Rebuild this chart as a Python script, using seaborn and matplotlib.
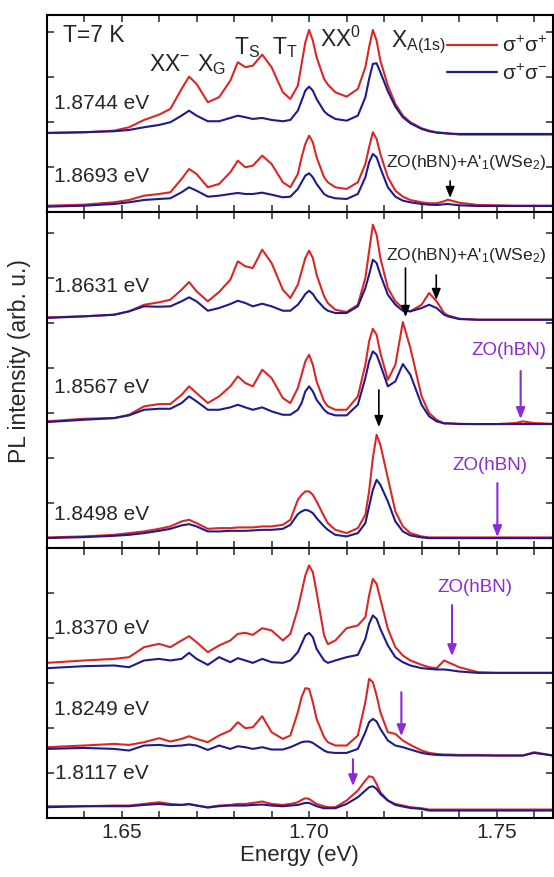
import numpy as np
import pandas as pd
import matplotlib
matplotlib.use("Agg")
import matplotlib.pyplot as plt
import seaborn as sns
from matplotlib.ticker import MultipleLocator, FormatStrFormatter

# ---------------- data (intensities in arb. units, stacked) ----------------
energy = [1.630, 1.640, 1.648, 1.652, 1.656, 1.660, 1.663, 1.666, 1.668, 1.670,
          1.673, 1.676, 1.679, 1.681, 1.683, 1.685, 1.6875, 1.690, 1.693, 1.695,
          1.697, 1.698, 1.699, 1.700, 1.701, 1.702, 1.704, 1.705, 1.707, 1.710,
          1.713, 1.715, 1.716, 1.717, 1.718, 1.719, 1.721, 1.723, 1.725, 1.727,
          1.730, 1.732, 1.734, 1.736, 1.737, 1.740, 1.745, 1.750, 1.755, 1.757,
          1.760, 1.765]

# top panel
sigpp_18744 = [79.0, 79.7, 81.3, 84.7, 92.0, 97.3, 103.0, 123.0, 135.3, 128.0, 109.7, 114.7, 131.3, 149.7, 144.7, 146.3, 157.3, 144.7, 119.7, 113.0, 126.3, 148.0, 169.7, 182.0, 171.3, 154.7, 133.0, 127.3, 119.7, 115.3, 123.0, 144.7, 164.7, 182.0, 171.3, 151.3, 126.3, 108.0, 96.3, 89.7, 83.7, 81.3, 79.7, 79.0, 78.7, 77.3, 77.3, 77.3, 77.3, 77.3, 77.3, 77.3]
sigpm_18744 = [79.0, 79.7, 80.7, 82.0, 84.7, 87.0, 89.7, 96.3, 101.3, 96.3, 90.7, 90.7, 94.0, 96.3, 94.7, 93.0, 94.0, 92.0, 90.7, 92.0, 101.3, 111.3, 121.3, 125.3, 121.3, 113.0, 100.7, 97.3, 93.0, 91.3, 96.3, 114.7, 133.0, 148.0, 148.7, 139.7, 120.7, 105.3, 94.7, 88.7, 83.0, 80.7, 79.3, 78.7, 78.3, 78.0, 78.0, 78.0, 78.0, 78.0, 78.0, 78.0]
sigpp_18693 = [6.3, 7.3, 9.7, 12.0, 16.3, 18.0, 19.7, 33.0, 43.0, 38.0, 24.7, 28.0, 39.7, 51.3, 44.7, 46.3, 56.3, 48.0, 29.7, 24.7, 38.0, 54.7, 68.0, 76.3, 69.7, 54.7, 34.7, 29.7, 24.7, 23.0, 29.7, 48.0, 64.7, 79.7, 73.0, 58.0, 34.7, 21.3, 15.3, 12.0, 9.7, 8.7, 8.7, 10.7, 12.3, 9.3, 7.0, 6.7, 6.3, 6.3, 6.3, 6.3]
sigpm_18693 = [5.3, 6.3, 8.0, 9.7, 12.0, 13.0, 13.7, 19.7, 24.7, 21.3, 15.3, 16.3, 18.0, 19.0, 18.0, 18.0, 19.3, 17.3, 14.7, 15.3, 23.0, 29.7, 36.3, 38.7, 34.7, 28.0, 18.0, 15.7, 13.7, 13.0, 18.0, 34.7, 49.7, 58.0, 54.7, 44.0, 24.7, 15.3, 11.3, 9.7, 8.0, 7.3, 7.0, 7.7, 8.0, 6.7, 6.0, 6.0, 6.0, 6.0, 6.0, 6.0]

# middle panel
sigpp_18631 = [230.7, 231.7, 233.3, 236.7, 243.3, 245.7, 248.3, 258.3, 266.0, 256.7, 246.7, 256.0, 268.3, 286.7, 281.7, 280.0, 298.3, 285.0, 258.3, 250.0, 263.3, 276.7, 290.0, 297.3, 290.0, 273.3, 251.7, 245.0, 238.3, 236.0, 243.3, 270.0, 296.7, 323.3, 313.3, 290.0, 260.0, 246.7, 240.0, 236.7, 243.3, 255.0, 246.7, 235.0, 232.7, 229.3, 228.3, 228.3, 228.3, 228.3, 228.3, 228.3]
sigpm_18631 = [230.0, 231.7, 233.3, 236.7, 241.7, 241.3, 241.7, 246.7, 250.7, 246.7, 237.3, 240.0, 244.0, 247.3, 245.0, 241.7, 244.3, 241.7, 237.3, 237.3, 243.3, 248.3, 254.0, 257.3, 254.0, 248.3, 240.0, 237.3, 235.0, 235.0, 241.7, 260.0, 273.3, 288.3, 285.0, 273.3, 253.3, 243.3, 237.3, 236.7, 240.0, 243.3, 240.0, 233.3, 231.7, 229.0, 228.3, 228.3, 228.3, 228.3, 228.3, 228.3]
sigpp_18567 = [126.7, 129.3, 130.0, 133.3, 141.7, 144.0, 144.0, 153.3, 161.7, 155.0, 145.0, 151.7, 161.7, 171.7, 165.0, 161.7, 178.3, 170.0, 150.0, 145.0, 160.0, 173.3, 186.7, 193.3, 183.3, 166.7, 146.7, 141.7, 138.3, 138.3, 151.7, 183.3, 206.7, 219.3, 213.3, 195.0, 168.3, 183.3, 226.0, 200.0, 151.7, 135.0, 128.3, 124.7, 124.7, 124.3, 124.0, 124.0, 125.0, 126.7, 125.0, 124.3]
sigpm_18567 = [126.0, 128.3, 130.0, 132.7, 138.3, 139.3, 139.3, 145.0, 151.7, 146.7, 138.3, 138.3, 140.7, 143.3, 140.7, 138.3, 140.7, 136.7, 133.3, 133.3, 138.3, 145.0, 156.7, 161.7, 156.7, 148.3, 138.3, 135.0, 132.7, 132.7, 143.3, 170.0, 186.7, 196.7, 193.3, 183.3, 161.7, 166.7, 184.0, 173.3, 143.3, 131.7, 126.7, 124.7, 124.7, 124.0, 124.0, 124.0, 124.0, 124.0, 124.0, 124.0]
sigpp_18498 = [10.7, 11.7, 13.3, 15.0, 16.7, 19.3, 21.7, 26.7, 28.3, 25.0, 19.3, 20.0, 20.0, 20.7, 20.7, 20.7, 21.7, 21.7, 23.3, 28.3, 48.3, 53.3, 56.7, 56.7, 53.3, 46.7, 31.7, 25.0, 18.3, 15.0, 20.0, 33.3, 56.7, 90.0, 113.3, 103.3, 70.0, 36.7, 21.7, 15.0, 11.7, 10.7, 10.7, 10.7, 10.7, 10.7, 10.7, 10.7, 10.7, 10.7, 10.7, 10.7]
sigpm_18498 = [10.0, 11.0, 12.3, 13.3, 15.0, 17.3, 19.3, 22.7, 24.0, 21.7, 16.7, 16.7, 17.3, 17.3, 17.3, 17.7, 18.3, 18.3, 19.3, 23.3, 34.0, 36.7, 38.3, 37.3, 35.0, 30.0, 21.7, 18.3, 13.3, 11.7, 15.0, 25.0, 41.7, 58.3, 68.3, 63.3, 46.7, 26.7, 16.7, 12.7, 10.7, 10.0, 10.0, 10.0, 10.0, 10.0, 10.0, 10.0, 10.0, 10.0, 10.0, 10.0]

# bottom panel
sigpp_18370 = [155.3, 157.7, 159.3, 161.0, 171.0, 174.3, 171.0, 177.7, 182.0, 176.0, 166.0, 172.7, 177.7, 184.3, 185.3, 183.3, 190.0, 187.7, 177.7, 184.3, 209.3, 226.0, 242.7, 252.7, 246.0, 226.0, 182.7, 174.0, 177.7, 190.0, 192.7, 201.0, 222.7, 239.3, 234.3, 219.3, 189.3, 171.0, 162.7, 157.7, 153.3, 151.0, 150.0, 157.7, 156.0, 151.0, 146.0, 145.3, 145.3, 145.3, 145.3, 145.3]
sigpm_18370 = [150.0, 152.0, 152.7, 151.0, 157.7, 159.3, 157.7, 159.3, 165.3, 159.3, 153.3, 161.0, 156.0, 160.0, 157.7, 155.3, 159.3, 156.0, 155.3, 157.7, 166.0, 174.3, 182.7, 185.3, 181.0, 169.3, 157.7, 155.3, 157.7, 161.0, 163.3, 179.3, 194.3, 202.7, 199.3, 189.3, 172.7, 161.0, 156.0, 152.7, 150.0, 149.3, 148.7, 148.7, 148.3, 146.7, 145.3, 145.3, 145.3, 145.3, 145.3, 145.3]
sigpp_18249 = [71.0, 72.7, 74.3, 73.3, 76.0, 80.0, 76.7, 79.3, 82.0, 79.3, 76.0, 82.7, 87.7, 96.0, 90.0, 91.0, 102.0, 86.0, 79.3, 82.7, 106.0, 121.0, 130.0, 129.3, 116.0, 99.3, 81.0, 76.0, 72.7, 72.7, 82.7, 116.0, 139.3, 136.0, 122.7, 106.0, 86.0, 84.3, 77.7, 73.3, 67.7, 65.3, 64.3, 63.7, 63.7, 63.3, 63.3, 62.7, 62.7, 62.7, 66.0, 62.7]
sigpm_18249 = [69.3, 70.3, 69.3, 67.7, 72.7, 73.3, 72.0, 72.7, 73.7, 72.7, 68.3, 72.7, 69.3, 72.0, 71.0, 69.3, 71.0, 68.7, 68.7, 71.0, 74.3, 76.0, 76.7, 76.7, 75.3, 72.7, 67.7, 66.0, 65.3, 65.3, 69.3, 86.0, 96.0, 99.3, 96.7, 89.3, 77.7, 72.7, 71.0, 68.7, 65.3, 64.0, 63.3, 63.0, 63.0, 62.7, 62.7, 62.7, 62.7, 62.7, 65.3, 62.7]
sigpp_18117 = [12.0, 12.0, 12.7, 12.7, 14.3, 16.0, 14.3, 13.3, 14.3, 12.7, 11.0, 12.7, 13.3, 14.3, 14.3, 15.3, 16.7, 14.3, 13.3, 14.3, 16.0, 18.3, 20.0, 19.3, 16.7, 14.3, 12.0, 11.0, 11.0, 17.7, 27.7, 37.7, 42.0, 41.0, 34.3, 26.0, 17.7, 14.3, 12.7, 11.0, 10.0, 8.7, 8.7, 8.7, 8.7, 8.7, 8.7, 8.7, 8.7, 8.7, 8.7, 8.7]
sigpm_18117 = [11.0, 12.0, 12.0, 12.0, 13.3, 14.3, 13.3, 13.3, 14.0, 12.7, 10.7, 12.0, 12.7, 12.7, 12.7, 13.3, 13.7, 12.7, 12.0, 12.7, 13.3, 14.3, 15.3, 15.3, 13.7, 12.0, 10.0, 10.0, 10.0, 14.3, 21.0, 27.7, 31.0, 32.0, 29.3, 24.3, 17.7, 13.3, 11.7, 10.3, 9.3, 7.7, 7.7, 7.7, 7.7, 7.7, 7.7, 7.7, 7.7, 7.7, 7.7, 7.7]

excitations = ["1.8744 eV", "1.8693 eV", "1.8631 eV", "1.8567 eV", "1.8498 eV",
               "1.8370 eV", "1.8249 eV", "1.8117 eV"]
panel_of = [0, 0, 1, 1, 1, 2, 2, 2]
co_pol = [sigpp_18744, sigpp_18693, sigpp_18631, sigpp_18567, sigpp_18498,
          sigpp_18370, sigpp_18249, sigpp_18117]
cross_pol = [sigpm_18744, sigpm_18693, sigpm_18631, sigpm_18567, sigpm_18498,
             sigpm_18370, sigpm_18249, sigpm_18117]
pol_labels = ["σ$^{+}$σ$^{+}$", "σ$^{+}$σ$^{-}$"]
panel_ylim = [197, 336, 270]

# ---------------- style ----------------
sns.set_theme(style="ticks")
plt.rcParams["font.family"] = ["Liberation Sans", "DejaVu Sans"]
plt.rcParams["mathtext.fontset"] = "custom"
plt.rcParams["mathtext.rm"] = "Liberation Sans"
plt.rcParams["mathtext.it"] = "Liberation Sans:italic"
plt.rcParams["mathtext.bf"] = "Liberation Sans:bold"

RED = "#DC2626"
BLUE = "#1C1C8E"
PURPLE = "#8A2BD8"
palette = {pol_labels[0]: RED, pol_labels[1]: BLUE}

rows = []
for i, exc in enumerate(excitations):
    for pol, series in zip(pol_labels, (co_pol[i], cross_pol[i])):
        for e, v in zip(energy, series):
            rows.append({"energy": e, "intensity": v, "excitation": exc,
                         "pol": pol, "panel": panel_of[i]})
df = pd.DataFrame(rows)

fig = plt.figure(figsize=(5.54, 8.77), dpi=100)
gs = fig.add_gridspec(3, 1, height_ratios=panel_ylim, hspace=0,
                      left=0.084, right=0.998, top=0.983, bottom=0.067)
axes = [fig.add_subplot(gs[i]) for i in range(3)]

for p, ax in enumerate(axes):
    sub = df[df["panel"] == p]
    sns.lineplot(data=sub, x="energy", y="intensity", hue="pol", units="excitation",
                 estimator=None, hue_order=pol_labels, palette=palette,
                 linewidth=1.5, ax=ax, legend=(p == 0), sort=False)
    ax.set_xlim(1.63, 1.765)
    ax.set_ylim(0, panel_ylim[p])
    ax.set_xlabel("")
    ax.set_ylabel("")
    ax.xaxis.set_major_locator(MultipleLocator(0.05))
    ax.xaxis.set_minor_locator(MultipleLocator(0.01))
    ax.xaxis.set_major_formatter(FormatStrFormatter("%.2f"))
    ax.yaxis.set_major_locator(MultipleLocator(45))
    ax.tick_params(axis="both", which="both", direction="in", top=True, right=True,
                   length=5, width=1.1, labelsize=15)
    ax.tick_params(axis="y", labelleft=False)
    if p < 2:
        ax.tick_params(axis="x", labelbottom=False)
    for s in ax.spines.values():
        s.set_linewidth(1.5)
        s.set_color("black")

# legend
h, l = axes[0].get_legend_handles_labels()
leg = axes[0].legend(h, l, loc="upper right", bbox_to_anchor=(1.005, 0.935),
                     frameon=False, fontsize=15, handlelength=2.4,
                     handletextpad=0.25, labelspacing=0.35, borderaxespad=0)
for line in leg.get_lines():
    line.set_linewidth(1.6)

axes[2].set_xlabel("Energy (eV)", fontsize=16, labelpad=2)
fig.text(0.036, 0.588, "PL intensity (arb. u.)", rotation=90, fontsize=16.5,
         ha="center", va="center")

# ---------------- annotations ----------------
lab_fs = 15
label_pos = [(0, 103.0), (0, 29.7), (1, 256.0), (1, 155.0), (1, 28.3),
             (2, 184.3), (2, 102.7), (2, 39.3)]
for exc, (p, yb) in zip(excitations, label_pos):
    xl = 1.6323 if exc == "1.8117 eV" else 1.6319
    axes[p].text(xl, yb, exc, fontsize=lab_fs, ha="left", va="baseline")

a0 = axes[0]
pk_fs = 16.5
a0.text(1.6345, 169.7, "T=7 K", fontsize=pk_fs, va="baseline")
a0.text(1.6572, 141.3, "XX$^{-}$", fontsize=pk_fs, va="baseline")
a0.text(1.6700, 141.3, "X$_{\\mathrm{G}}$", fontsize=pk_fs, va="baseline")
a0.text(1.6799, 158.0, "T$_{\\mathrm{S}}$", fontsize=pk_fs, va="baseline")
a0.text(1.6901, 158.0, "T$_{\\mathrm{T}}$", fontsize=pk_fs, va="baseline")
a0.text(1.7028, 164.7, "XX$^{0}$", fontsize=pk_fs, va="baseline")
a0.text(1.7219, 164.7, "X$_{\\mathrm{A(1s)}}$", fontsize=pk_fs, va="baseline")

zo_full = "ZO(hBN)+A'$_{1}$(WSe$_{2}$)"
zo_fs = 12.6
a0.text(1.7205, 45.3, zo_full, fontsize=zo_fs, va="baseline")


def arrow(ax, x, y0, y1, color, lw=1.2):
    ax.annotate("", xy=(x, y1), xytext=(x, y0),
                arrowprops=dict(arrowstyle="-|>,head_length=0.55,head_width=0.22",
                                color=color, lw=lw, shrinkA=0, shrinkB=0))


arrow(a0, 1.7376, 31, 14, "black")

a1 = axes[1]
a1.text(1.7205, 288.3, zo_full, fontsize=zo_fs, va="baseline")
arrow(a1, 1.7257, 280, 231, "black")
arrow(a1, 1.7339, 273, 248, "black")
arrow(a1, 1.7186, 158, 121, "black")
a1.text(1.7532, 193.3, "ZO(hBN)", fontsize=13.5, ha="center", va="baseline", color=PURPLE)
arrow(a1, 1.7564, 177, 129, PURPLE, lw=1.5)
a1.text(1.7483, 78.3, "ZO(hBN)", fontsize=13.5, ha="center", va="baseline", color=PURPLE)
arrow(a1, 1.7502, 65, 11, PURPLE, lw=1.5)

a2 = axes[2]
a2.text(1.7443, 226.0, "ZO(hBN)", fontsize=13.5, ha="center", va="baseline", color=PURPLE)
arrow(a2, 1.7381, 213, 162, PURPLE, lw=1.5)
arrow(a2, 1.7246, 126, 82, PURPLE, lw=1.5)
arrow(a2, 1.7117, 59, 32, PURPLE, lw=1.5)

fig.savefig("out.png", dpi=100)
